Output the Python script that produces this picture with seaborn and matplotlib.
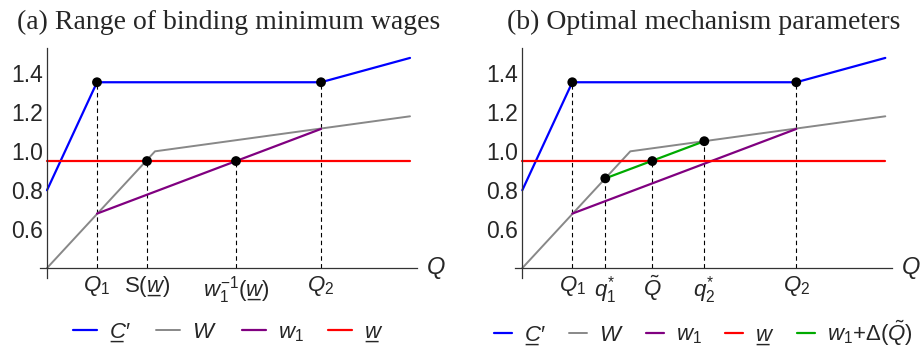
import matplotlib
matplotlib.use('Agg')
import matplotlib.pyplot as plt
import seaborn as sns
from matplotlib.ticker import MultipleLocator

# underlined symbols: mathtext has no \underline, so an underscore is pulled back under the letter
UW = r'w\hspace{-0.8}\_\hspace{0.13}'
UC = r'C\hspace{-0.8}\_\hspace{0.13}'

# curve vertices (Q, value)
mc_q = [0.0, 0.5, 2.74, 3.63]          # C' (marginal cost)
mc_v = [0.80, 1.355, 1.355, 1.48]
W_q = [0.0, 1.08, 3.63]                # W
W_v = [0.40, 1.00, 1.18]
w1_q = [0.5, 2.74]                     # w_1
w1_v = [0.68, 1.115]
wmin_q = [0.0, 3.63]                   # minimum wage w
wmin_v = [0.95, 0.95]
green_q = [0.83, 1.82]                 # w_1 + Delta(Q~)
green_v = [0.861, 1.052]

# marked points and their tick labels
marks_a_q = [0.5, 1.0, 1.89, 2.74]
marks_a_v = [1.355, 0.95, 0.95, 1.355]
marks_a_lab = [r'$Q_1$', r'S($' + UW + r'$)', r'$w_1^{-1}$($' + UW + r'$)', r'$Q_2$']
marks_b_q = [0.5, 0.83, 1.30, 1.82, 2.74]
marks_b_v = [1.355, 0.861, 0.95, 1.052, 1.355]
marks_b_lab = [r'$Q_1$', r'$q_1^{*}$', r'$\tilde{Q}$', r'$q_2^{*}$', r'$Q_2$']

yticks = [0.6, 0.8, 1.0, 1.2, 1.4]
titles = ['(a) Range of binding minimum wages', '(b) Optimal mechanism parameters']

sns.set_style('white')
plt.rcParams['font.family'] = ['Liberation Sans', 'DejaVu Sans']
plt.rcParams['mathtext.fontset'] = 'custom'
plt.rcParams['mathtext.it'] = 'Liberation Sans:italic'
plt.rcParams['mathtext.rm'] = 'Liberation Sans'
plt.rcParams['mathtext.sf'] = 'Liberation Sans'

fig = plt.figure(figsize=(9.22, 3.51), dpi=100)
W_PX, H_PX = 922, 351


def draw_panel(left_px, title, marks_q, marks_v, marks_lab, with_green):
    ax = fig.add_axes([left_px / W_PX, 73 / H_PX, 377.5 / W_PX, 230 / H_PX])
    sns.lineplot(x=mc_q, y=mc_v, color='#0000ff', lw=1.6, ax=ax, label=r'$' + UC + r'$' + '\u2032',
                 estimator=None, sort=False)
    sns.lineplot(x=W_q, y=W_v, color='#888888', lw=1.4, ax=ax, label=r'$W$', estimator=None, sort=False)
    sns.lineplot(x=w1_q, y=w1_v, color='#800080', lw=1.6, ax=ax, label=r'$w_1$', estimator=None, sort=False)
    sns.lineplot(x=wmin_q, y=wmin_v, color='#ff0000', lw=1.6, ax=ax, label=r'$' + UW + r'$',
                 estimator=None, sort=False)
    if with_green:
        sns.lineplot(x=green_q, y=green_v, color='#00aa00', lw=1.6, ax=ax,
                     label=r'$w_1$+$\Delta(\tilde{Q})$', estimator=None, sort=False)
    ax.vlines(marks_q, 0.4, marks_v, colors='black', lw=0.8, linestyles=(0, (4, 3)), zorder=1)
    sns.scatterplot(x=marks_q, y=marks_v, color='black', s=50, ax=ax, zorder=5, edgecolor='none')

    ax.set_xlim(-0.075, 3.70)
    ax.set_ylim(0.349, 1.531)
    for s in ['top', 'right']:
        ax.spines[s].set_visible(False)
    ax.spines['left'].set_position(('data', 0))
    ax.spines['bottom'].set_position(('data', 0.4))
    for s in ['left', 'bottom']:
        ax.spines[s].set_color('#333333')
        ax.spines[s].set_linewidth(0.9)

    ax.set_yticks(yticks)
    ax.set_yticklabels([f'{v:.1f}' for v in yticks], fontsize=16.5)
    ax.yaxis.set_minor_locator(MultipleLocator(0.05))
    ax.tick_params(axis='y', which='major', direction='in', length=4, width=0.8, color='#333333', pad=3)
    ax.tick_params(axis='y', which='minor', direction='in', length=2.5, width=0.7, color='#333333')
    ax.set_xticks(marks_q)
    ax.set_xticklabels(marks_lab, fontsize=16)
    ax.tick_params(axis='x', length=0, pad=4)
    ax.text(3.89, 0.4, r'$Q$', fontsize=17, ha='center', va='center', clip_on=False)

    ax.set_title(title, fontfamily='Liberation Serif', fontsize=20, pad=14)

    cx = left_px + 188.75
    ax.legend(loc='center', bbox_to_anchor=(cx / W_PX, 1 - 333 / H_PX), bbox_transform=fig.transFigure,
              ncol=5, frameon=False, fontsize=16, handlelength=1.08 if not with_green else 0.81,
              handletextpad=0.54, columnspacing=1.13 if not with_green else 1.02, borderpad=0)
    ax.set_xlabel('')
    ax.set_ylabel('')
    return ax


draw_panel(39.5, titles[0], marks_a_q, marks_a_v, marks_a_lab, False)
draw_panel(514.8, titles[1], marks_b_q, marks_b_v, marks_b_lab, True)

fig.savefig('out.png', dpi=100)
